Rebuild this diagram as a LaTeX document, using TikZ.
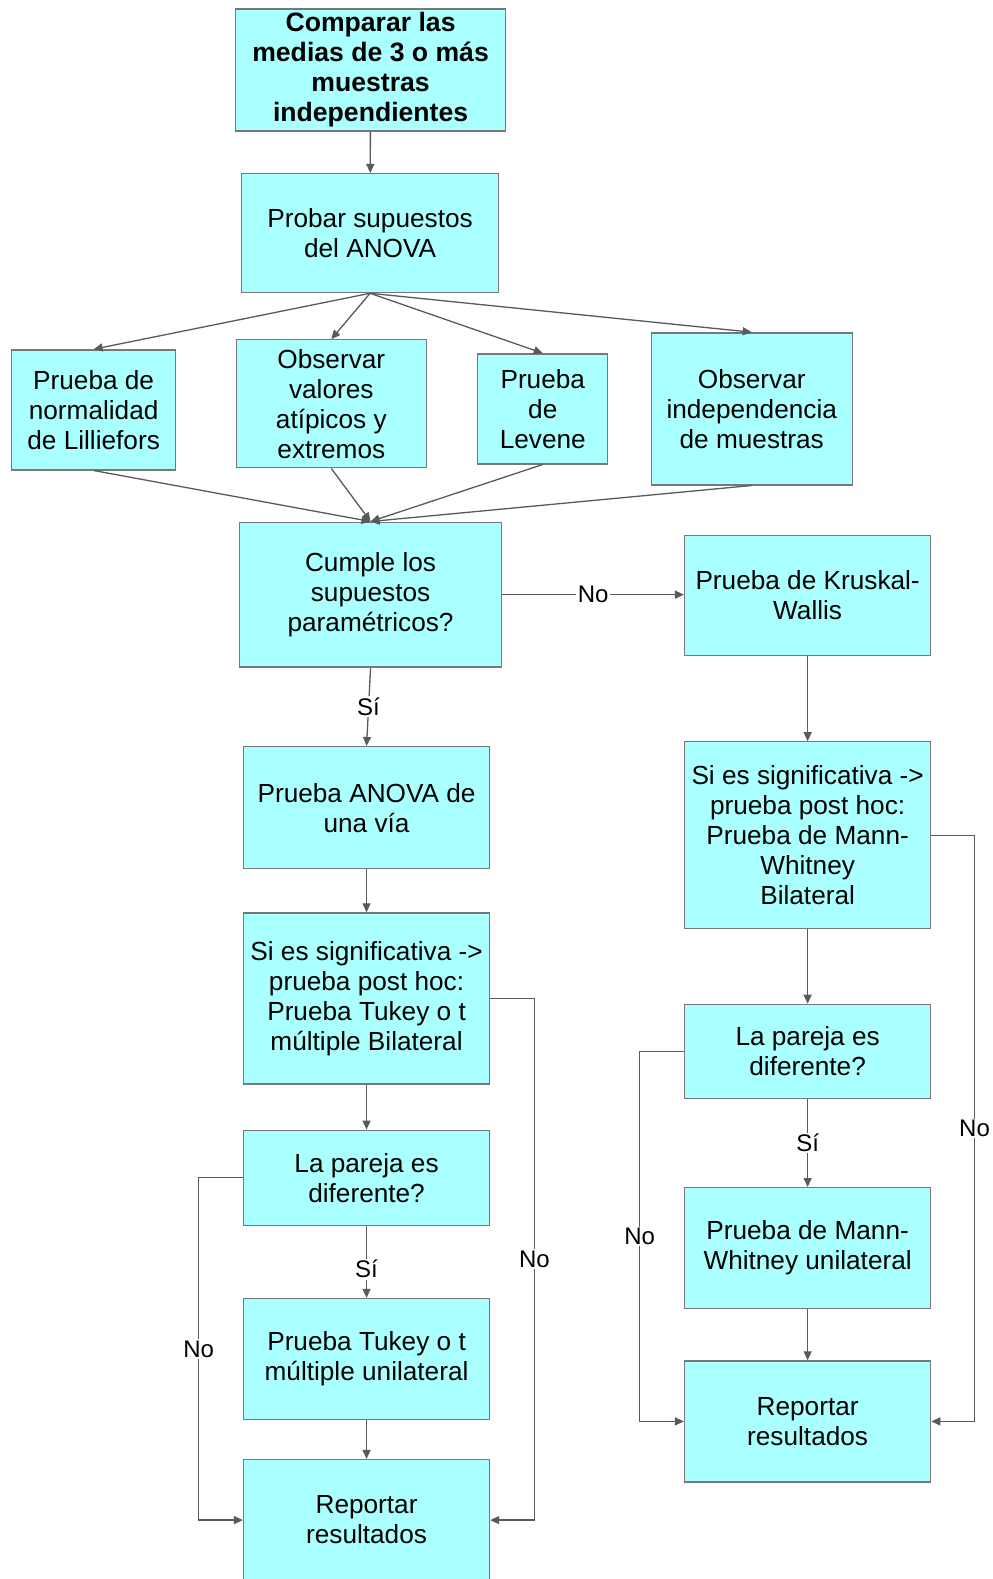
\documentclass[tikz,border=0pt]{standalone}
\usepackage{fontspec}
\setmainfont{Liberation Sans}
\usetikzlibrary{arrows.meta}
\definecolor{boxfill}{RGB}{170,255,255}
\definecolor{boxline}{RGB}{120,120,120}
\definecolor{arrline}{RGB}{90,90,90}
\tikzset{
  box/.style={draw=boxline, fill=boxfill, line width=1.3pt, align=center, inner sep=0pt,
    font=\fontsize{26.2}{30}\selectfont},
  arr/.style={draw=arrline, line width=1.3pt, -{Triangle[length=9pt,width=8pt]}},
  lbl/.style={fill=white, inner sep=1.5pt, font=\fontsize{24}{28}\selectfont}
}
\begin{document}
\begin{tikzpicture}[x=1.0071pt,y=-1.0071pt]
\useasboundingbox (0,0) rectangle (986,1568);
\fill[white] (0,0) rectangle (986,1568);
% nodes
\node[box, minimum width=270, minimum height=122, font=\fontsize{26.6}{30}\selectfont\bfseries] (top) at (368,69.5) {Comparar las\\medias de 3 o más\\muestras\\independientes};
\node[box, minimum width=257, minimum height=119] (prob) at (367.5,231.5) {Probar supuestos\\del ANOVA};
\node[box, minimum width=164, minimum height=120] (lil) at (93,407) {Prueba de\\normalidad\\de Lilliefors};
\node[box, minimum width=190, minimum height=128] (atip) at (329,401) {Observar\\valores\\atípicos y\\extremos};
\node[box, minimum width=130, minimum height=110] (lev) at (539,406) {Prueba\\de\\Levene};
\node[box, minimum width=201, minimum height=152] (ind) at (746.5,406) {Observar\\independencia\\de muestras};
\node[box, minimum width=262, minimum height=145] (cum) at (368,590.5) {Cumple los\\supuestos\\paramétricos?};
\node[box, minimum width=246, minimum height=120] (kru) at (802,591) {Prueba de Kruskal-\\Wallis};
\node[box, minimum width=246, minimum height=122] (ano) at (364,802) {Prueba ANOVA de\\una vía};
\node[box, minimum width=246, minimum height=171] (sigl) at (364,991.5) {Si es significativa ->\\prueba post hoc:\\Prueba Tukey o t\\múltiple Bilateral};
\node[box, minimum width=246, minimum height=95] (parl) at (364,1169.5) {La pareja es\\diferente?};
\node[box, minimum width=246, minimum height=121] (tuk) at (364,1349.5) {Prueba Tukey o t\\múltiple unilateral};
\node[box, minimum width=246, minimum height=121] (repl) at (364,1509.5) {Reportar\\resultados};
\node[box, minimum width=246, minimum height=187] (sigr) at (802,829.5) {Si es significativa ->\\prueba post hoc:\\Prueba de Mann-\\Whitney\\Bilateral};
\node[box, minimum width=246, minimum height=94] (parr) at (802,1044) {La pareja es\\diferente?};
\node[box, minimum width=246, minimum height=121] (mann) at (802,1239.5) {Prueba de Mann-\\Whitney unilateral};
\node[box, minimum width=246, minimum height=121] (repr) at (802,1411.5) {Reportar\\resultados};
% connectors
\draw[arr] (top) -- (prob);
\draw[arr] (prob.south) -- (lil.north);
\draw[arr] (prob.south) -- (atip.north);
\draw[arr] (prob.south) -- (lev.north);
\draw[arr] (prob.south) -- (ind.north);
\draw[arr] (lil.south) -- (cum.north);
\draw[arr] (atip.south) -- (cum.north);
\draw[arr] (lev.south) -- (cum.north);
\draw[arr] (ind.south) -- (cum.north);
\draw[arr] (cum.east) -- node[lbl]{No} (cum.east -| kru.west);
\draw[arr] (cum.south) -- node[lbl]{Sí} (ano.north);
\draw[arr] (ano) -- (sigl);
\draw[arr] (sigl) -- (parl);
\draw[arr] (parl) -- node[lbl,pos=0.6]{Sí} (tuk);
\draw[arr] (tuk) -- (repl);
\draw[arr] (parl.west) -- ++(-44,0) |- node[lbl,pos=0.25]{No} (repl.west);
\draw[arr] (sigl.east) -- ++(44,0) |- node[lbl,pos=0.25]{No} (repl.east);
\draw[arr] (kru) -- (sigr);
\draw[arr] (sigr) -- (parr);
\draw[arr] (parr) -- node[lbl]{Sí} (mann);
\draw[arr] (mann) -- (repr);
\draw[arr] (parr.west) -- ++(-44,0) |- node[lbl,pos=0.25]{No} (repr.west);
\draw[arr] (sigr.east) -- ++(43,0) |- node[lbl,pos=0.25]{No} (repr.east);
\end{tikzpicture}
\end{document}
